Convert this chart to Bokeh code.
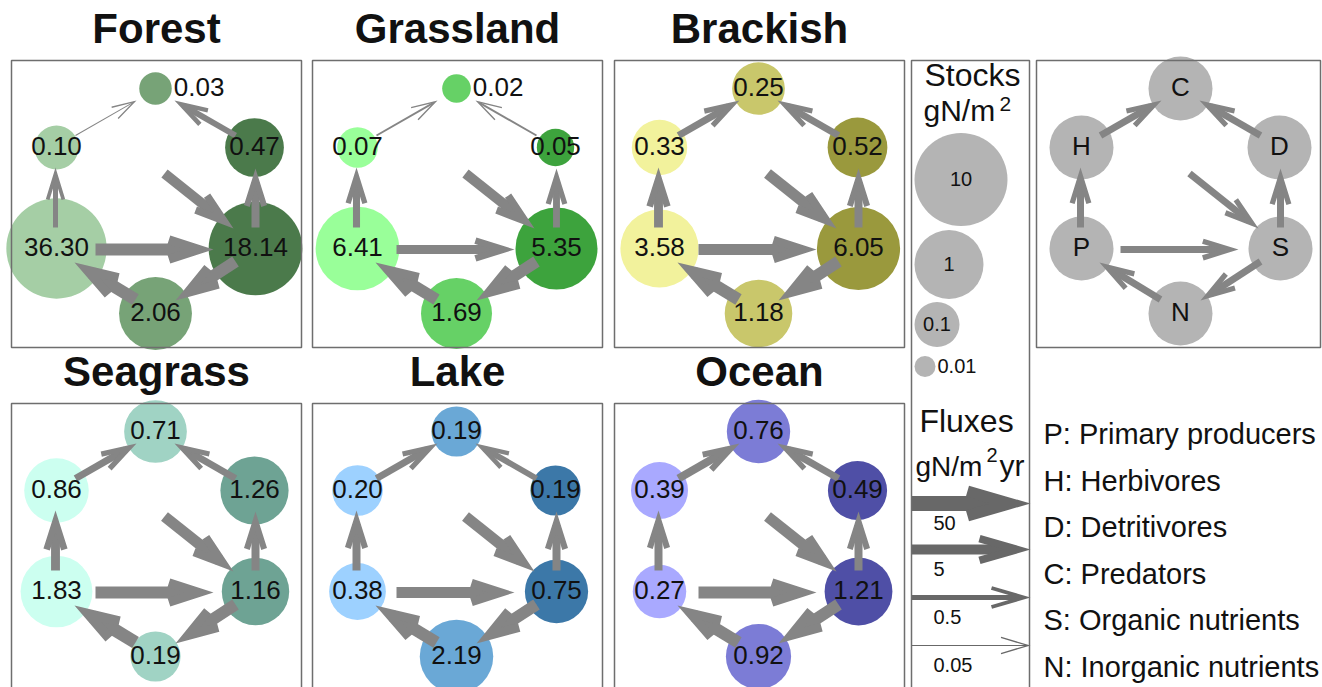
import math
from bokeh.plotting import figure
from bokeh.models import Range1d
from bokeh.embed import file_html
from bokeh.resources import INLINE
from bokeh.core.properties import value

# ---------------- data ----------------
panels = ["Forest", "Grassland", "Brackish", "Seagrass", "Lake", "Ocean"]
node_codes = ["P", "H", "C", "D", "S", "N"]

# stocks (gN/m2) in node_codes order
stock_forest = [36.30, 0.10, 0.03, 0.47, 18.14, 2.06]
stock_grassland = [6.41, 0.07, 0.02, 0.05, 5.35, 1.69]
stock_brackish = [3.58, 0.33, 0.25, 0.52, 6.05, 1.18]
stock_seagrass = [1.83, 0.86, 0.71, 1.26, 1.16, 0.19]
stock_lake = [0.38, 0.20, 0.19, 0.19, 0.75, 2.19]
stock_ocean = [0.27, 0.39, 0.76, 0.49, 1.21, 0.92]

# fluxes (gN/m2/yr)
flux_links = [("P", "H"), ("H", "C"), ("D", "C"), ("S", "D"),
              ("X", "S"), ("P", "S"), ("S", "N"), ("N", "P")]
flux_forest = [0.5, 0.08, 0.8, 2.0, 5.0, 12.0, 13.0, 15.0]
flux_grassland = [1.3, 0.12, 0.12, 1.2, 5.0, 3.0, 12.0, 12.0]
flux_brackish = [3.0, 1.3, 1.2, 2.0, 8.0, 8.0, 12.0, 13.0]
flux_seagrass = [3.0, 1.3, 1.2, 2.0, 8.0, 12.0, 12.0, 20.0]
flux_lake = [2.0, 1.2, 0.8, 2.0, 8.0, 8.0, 12.0, 13.0]
flux_ocean = [2.0, 2.0, 1.3, 2.0, 8.0, 12.0, 13.0, 13.0]

stock_legend_values = [10, 1, 0.1, 0.01]
stock_legend_labels = ["10", "1", "0.1", "0.01"]
flux_legend_values = [50, 5, 0.5, 0.05]
flux_legend_labels = ["50", "5", "0.5", "0.05"]

key_lines = ["P: Primary producers", "H: Herbivores", "D: Detritivores",
             "C: Predators", "S: Organic nutrients", "N: Inorganic nutrients"]

stocks = dict(zip(panels, [stock_forest, stock_grassland, stock_brackish,
                           stock_seagrass, stock_lake, stock_ocean]))
fluxes = dict(zip(panels, [flux_forest, flux_grassland, flux_brackish,
                           flux_seagrass, flux_lake, flux_ocean]))

# ---------------- layout / style ----------------
FONT = value("Liberation Sans")
W_PX, H_PX = 1322, 687
panel_origin = {"Forest": (11, 60), "Grassland": (312, 60), "Brackish": (614, 60),
                "Seagrass": (11, 403), "Lake": (312, 403), "Ocean": (614, 403)}
BOX_W, BOX_H = 290, 287
node_pos = {"P": (45, 188), "H": (45, 87), "C": (144, 28),
            "D": (243, 87), "S": (244, 188), "N": (144, 253)}
arrow_geom = {
    ("P", "H"): ((44, 167), (44, 107)),
    ("H", "C"): ((64, 75), (125, 40)),
    ("D", "C"): ((224, 75), (163, 40)),
    ("S", "D"): ((244, 167), (244, 108)),
    ("X", "S"): ((153, 113), (222, 168)),
    ("P", "S"): ((84, 189), (202, 189)),
    ("S", "N"): ((224, 201), (164, 240)),
    ("N", "P"): ((124, 239), (63, 202)),
}
palette = {
    "Forest": ("#a5cea5", "#77a377", "#4b7a4b"),
    "Grassland": ("#99ff99", "#66d166", "#3da33d"),
    "Brackish": ("#f2f29c", "#c9c76b", "#9a993d"),
    "Seagrass": ("#ccfff0", "#a0d3c4", "#6ea394"),
    "Lake": ("#9dd1ff", "#6aa8d6", "#3c78a8"),
    "Ocean": ("#a9a9ff", "#7c7cd6", "#4f4fa6"),
}
tier = {"P": 0, "H": 0, "C": 1, "N": 1, "D": 2, "S": 2}
ARROW_COLOR = "#858585"
LEGEND_ARROW_COLOR = "#686868"
GRAY_NODE = "#b4b4b4"
BOX_COLOR = "#6e6e6e"
TXT = "#111111"
BASE_SHIFT = 0.4  # svg 'alphabetic' offset (fraction of font size)


def node_r(v):
    return 33 + 11 * math.log10(v)


def legend_r(v):
    return 34.5 + 12 * math.log10(v)


def flux_w(v):
    return max(1.0, 6.5 + 5 * math.log10(v))


def arrow_shapes(x0, y0, x1, y1, w, L, W):
    dx, dy = x1 - x0, y1 - y0
    ln = math.hypot(dx, dy)
    ux, uy = dx / ln, dy / ln
    nx, ny = -uy, ux
    t = max(1.3, 0.75 * w)
    h = math.hypot(L, W / 2)
    c1 = (-L, W / 2)
    c1i = (-L - t * (W / 2) / h, W / 2 - t * L / h)
    if c1i[1] > 0.3:
        s = c1i[1] / ((W / 2) / h)
        na = c1i[0] + s * L / h
        local = [(0, 0), c1, c1i, (na, 0), (c1i[0], -c1i[1]), (-L, -W / 2)]
    else:
        na = -L
        local = [(0, 0), c1, (-L, -W / 2)]
    px = [x1 + a * ux + b * nx for a, b in local]
    py = [y1 + a * uy + b * ny for a, b in local]
    rt = min(abs(na), w * L / W + 1.0)
    sx, sy = x1 - rt * ux, y1 - rt * uy
    return (x0, y0, sx, sy), px, py


p = figure(width=W_PX, height=H_PX, x_range=Range1d(0, W_PX), y_range=Range1d(H_PX, 0),
           x_axis_type=None, y_axis_type=None, toolbar_location=None,
           output_backend="svg", min_border=0, outline_line_color=None,
           background_fill_color="white", border_fill_color="white")
p.title.visible = False
p.xgrid.visible = False
p.ygrid.visible = False


def txt(xs, base_ys, texts, fs, align="left", bold=False):
    p.text(x=xs, y=[b - BASE_SHIFT * fs for b in base_ys], text=texts, text_font=FONT,
           text_font_size="%dpx" % fs, text_font_style="bold" if bold else "normal",
           text_align=align, text_baseline="alphabetic", text_color=TXT)


# ---------- panels ----------
cx, cy, cr, ccol = [], [], [], []
lab_c = dict(x=[], y=[], t=[])
lab_r = dict(x=[], y=[], t=[])
seg = dict(x0=[], y0=[], x1=[], y1=[], w=[])
heads_x, heads_y = [], []
title_x, title_base, title_t = [], [], []
box_l, box_r, box_t, box_b = [], [], [], []
NODE_FS = 26

for name in panels:
    ox, oy = panel_origin[name]
    box_l.append(ox); box_r.append(ox + BOX_W); box_t.append(oy); box_b.append(oy + BOX_H)
    title_x.append(ox + BOX_W / 2); title_base.append(oy - 15); title_t.append(name)
    for code, v in zip(node_codes, stocks[name]):
        nx_, ny_ = node_pos[code]
        r = node_r(v)
        cx.append(ox + nx_); cy.append(oy + ny_); cr.append(r)
        ccol.append(palette[name][tier[code]])
        label = "%.2f" % v
        base = oy + ny_ + 0.358 * NODE_FS
        if r < 17:
            lab_r["x"].append(ox + nx_ + r + 2); lab_r["y"].append(base); lab_r["t"].append(label)
        else:
            lab_c["x"].append(ox + nx_); lab_c["y"].append(base); lab_c["t"].append(label)
    for link, fv in zip(flux_links, fluxes[name]):
        (ax0, ay0), (ax1, ay1) = arrow_geom[link]
        w = flux_w(fv)
        (s0x, s0y, s1x, s1y), hx, hy = arrow_shapes(ox + ax0, oy + ay0, ox + ax1, oy + ay1,
                                                    w, 23 + 1.7 * w, 13 + 1.25 * w)
        seg["x0"].append(s0x); seg["y0"].append(s0y); seg["x1"].append(s1x); seg["y1"].append(s1y)
        seg["w"].append(w)
        heads_x.append(hx); heads_y.append(hy)

# key panel
KOX, KOY = 1036, 60
kx, ky = [], []
for code in node_codes:
    nx_, ny_ = node_pos[code]
    kx.append(KOX + nx_); ky.append(KOY + ny_)
kseg = dict(x0=[], y0=[], x1=[], y1=[])
khx, khy = [], []
KW = 7.0
for link in flux_links:
    (ax0, ay0), (ax1, ay1) = arrow_geom[link]
    (s0x, s0y, s1x, s1y), hx, hy = arrow_shapes(KOX + ax0, KOY + ay0, KOX + ax1, KOY + ay1,
                                                KW, 23 + 1.7 * KW, 13 + 1.25 * KW)
    kseg["x0"].append(s0x); kseg["y0"].append(s0y); kseg["x1"].append(s1x); kseg["y1"].append(s1y)
    khx.append(hx); khy.append(hy)

# circles
p.circle(x=cx, y=cy, radius=cr, fill_color=ccol, line_color=None)
p.circle(x=kx, y=ky, radius=32, fill_color=GRAY_NODE, line_color=None)

# stock legend
LEG_LEFT = 914
stock_cy = [179, 264, 324, 366]
slx = [LEG_LEFT + legend_r(v) for v in stock_legend_values]
slr = [legend_r(v) for v in stock_legend_values]
p.circle(x=slx, y=stock_cy, radius=slr, fill_color=GRAY_NODE, line_color=None)

# arrows
p.segment(x0=seg["x0"], y0=seg["y0"], x1=seg["x1"], y1=seg["y1"], line_width=seg["w"],
          line_color=ARROW_COLOR, line_cap="butt")
p.patches(xs=heads_x, ys=heads_y, fill_color=ARROW_COLOR, line_color=None)
p.segment(x0=kseg["x0"], y0=kseg["y0"], x1=kseg["x1"], y1=kseg["y1"], line_width=KW,
          line_color=ARROW_COLOR, line_cap="butt")
p.patches(xs=khx, ys=khy, fill_color=ARROW_COLOR, line_color=None)

# flux legend arrows
flux_cy = [503, 549, 597, 645]
fsx0, fsy0, fsx1, fsy1, fsw, fhx, fhy = [], [], [], [], [], [], []
for v, yy in zip(flux_legend_values, flux_cy):
    w = flux_w(v)
    (s0x, s0y, s1x, s1y), hx, hy = arrow_shapes(911, yy, 1030, yy, w, 27 + 2.3 * w, 16 + 1.3 * w)
    fsx0.append(s0x); fsy0.append(s0y); fsx1.append(s1x); fsy1.append(s1y); fsw.append(w)
    fhx.append(hx); fhy.append(hy)
p.segment(x0=fsx0, y0=fsy0, x1=fsx1, y1=fsy1, line_width=fsw, line_color=LEGEND_ARROW_COLOR,
          line_cap="butt")
p.patches(xs=fhx, ys=fhy, fill_color=LEGEND_ARROW_COLOR, line_color=None)

# boxes
p.quad(left=box_l, right=box_r, top=box_t, bottom=box_b, fill_color=None,
       line_color=BOX_COLOR, line_width=1.5)
p.quad(left=[1036], right=[1320], top=[60], bottom=[347], fill_color=None,
       line_color=BOX_COLOR, line_width=1.5)
p.quad(left=[911], right=[1029], top=[60], bottom=[720], fill_color=None,
       line_color=BOX_COLOR, line_width=1.5)

# texts
txt(title_x, [b + 0 for b in title_base], title_t, 42, "center", bold=True)
txt(lab_c["x"], lab_c["y"], lab_c["t"], NODE_FS, "center")
txt(lab_r["x"], lab_r["y"], lab_r["t"], NODE_FS, "left")
txt(kx, [v + 0.358 * NODE_FS for v in ky], node_codes, NODE_FS, "center")

# stock legend texts
txt([972], [87], ["Stocks"], 32, "center")
txt([923], [122], ["gN/m"], 30, "left")
txt([999], [112], ["2"], 21, "left")
LEG_FS = 20
inside = [i for i, v in enumerate(stock_legend_values) if legend_r(v) >= 17]
outside = [i for i, v in enumerate(stock_legend_values) if legend_r(v) < 17]
txt([slx[i] for i in inside], [stock_cy[i] + 0.358 * LEG_FS for i in inside],
    [stock_legend_labels[i] for i in inside], LEG_FS, "center")
txt([slx[i] + slr[i] + 2 for i in outside], [stock_cy[i] + 0.358 * LEG_FS for i in outside],
    [stock_legend_labels[i] for i in outside], LEG_FS, "left")

# flux legend texts
txt([966], [433], ["Fluxes"], 32, "center")
txt([915], [477], ["gN/m"], 28, "left")
txt([986], [462], ["2"], 20, "left")
txt([999], [477], ["yr"], 30, "left")
txt([933] * 4, [v + 27 for v in flux_cy], flux_legend_labels, LEG_FS, "left")

# key list
txt([1043] * 6, [445 + 46.6 * i for i in range(6)], key_lines, 29, "left")

open("out.html", "w").write(file_html(p, INLINE))
